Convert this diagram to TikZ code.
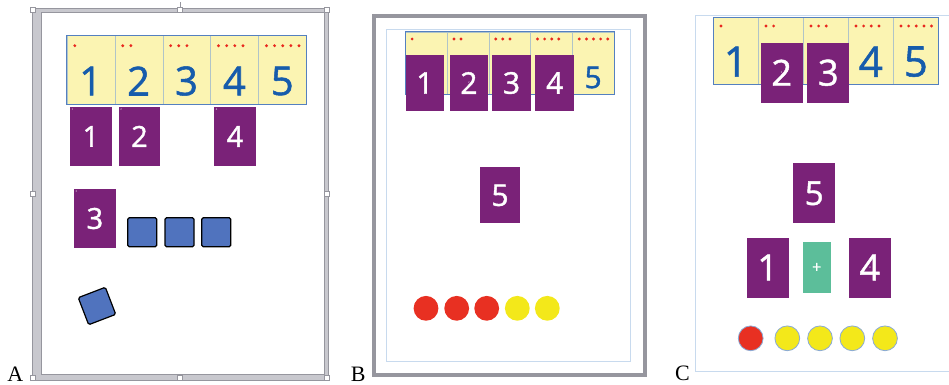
\documentclass[tikz,border=0pt]{standalone}
\usepackage{fontspec}
\setmainfont{Liberation Serif}
\newfontfamily\digitfont[FakeBold=1.3]{Open Sans}
\definecolor{cellyellow}{RGB}{251,244,178}
\definecolor{cellline}{RGB}{176,196,200}
\definecolor{stripblue}{RGB}{84,128,192}
\definecolor{digitblue}{RGB}{22,92,172}
\definecolor{dotred}{RGB}{232,40,30}
\definecolor{cardpurple}{RGB}{122,34,120}
\definecolor{plusgreen}{RGB}{92,190,154}
\definecolor{squareblue}{RGB}{80,115,190}
\definecolor{counterred}{RGB}{232,48,34}
\definecolor{counteryellow}{RGB}{243,232,26}
\definecolor{counterline}{RGB}{138,170,214}
\definecolor{framegray}{RGB}{150,150,158}
\definecolor{framelight}{RGB}{200,200,206}
\definecolor{pageblue}{RGB}{200,218,238}

\tikzset{
  cellbox/.style={draw=cellline, fill=cellyellow, inner sep=0pt},
  digit/.style={text=digitblue, inner sep=0pt},
  cardmark/.style={anchor=north west, text=white, font=\fontsize{3}{3}\selectfont, inner sep=1.5pt},
  card/.style={fill=cardpurple, text=white, inner sep=0pt,
    minimum width=41.5pt, minimum height=59.3pt,
    font=\digitfont\fontsize{29}{29}\selectfont},
  bluesq/.style={draw=black, line width=1.2pt, fill=squareblue, rounded corners=1.5pt,
    minimum size=29pt, inner sep=0pt},
  counter/.style={circle, inner sep=0pt, minimum size=24.8pt},
  handle/.style={draw=framegray, fill=white, line width=0.5pt, inner sep=0pt, minimum size=5pt},
  panellabel/.style={font=\fontsize{22}{22}\selectfont, anchor=base, inner sep=0pt}
}

% #1 name, #2 x, #3 y, #4 cell width, #5 height, #6 dot offset, #7 digit offset,
% #8 digit size, #9 digits left uncovered
\newcommand{\digitstrip}[9]{%
  \foreach \i in {1,...,5}{
    \node[cellbox, minimum width=#4pt, minimum height=#5pt, anchor=north west]
      (#1c\i) at ({#2+(\i-1)*#4},#3) {};
    \foreach \j in {1,...,\i}
      \fill[dotred] ({#2+(\i-1)*#4+\j*0.17*#4},{#3+#6}) circle (1.6);
  }
  \foreach \i in {#9}
    \node[digit, font=\digitfont\fontsize{#8}{#8}\selectfont]
      (#1d\i) at ({#2+(\i-0.5)*#4},{#3+#7}) {\i};
  \draw[stripblue, line width=0.9pt] (#2,#3) rectangle ({#2+5*#4},{#3+#5});
}

\begin{document}
\begin{tikzpicture}[x=1pt,y=-1pt]
\useasboundingbox (0,0) rectangle (949,384);

% panel A
\fill[framelight, even odd rule] (32,8) rectangle (328,380) (41,12) rectangle (324,374);
\draw[framegray, line width=0.8pt] (32,8) rectangle (328,380);
\draw[framegray, line width=0.8pt] (41,12) rectangle (324,374);
\draw[framegray, line width=0.6pt] (180,2) -- (180,8);
\foreach \p [count=\k] in {(33,10),(180,10),(327,10),(33,194),(327,194),(33,378),(180,378),(327,378)}
  \node[handle] (h\k) at \p {};

\digitstrip{a}{66.7}{35}{47.9}{69}{10.7}{46}{40}{1,...,5}

\node[card, label={[cardmark]north west:1}] (a1) at (90.9,136.4) {1};
\node[card, label={[cardmark]north west:2}] (a2) at (139.5,136.4) {2};
\node[card, label={[cardmark]north west:4}] (a4) at (235,136.4) {4};
\node[card, label={[cardmark]north west:3}] (a3) at (94.9,218.5) {3};

\node[bluesq] (sq1) at (142.3,232.2) {};
\node[bluesq] (sq2) at (179.5,232.2) {};
\node[bluesq] (sq3) at (216.2,232.2) {};
\node[bluesq, rotate=21] (sq4) at (97,306) {};

\node[panellabel] (labA) at (15.3,381) {A};

% panel B
\draw[framegray, line width=3.5pt] (374,16) rectangle (645,375);
\draw[pageblue, line width=0.8pt] (386.7,29.3) rectangle (630,361);

\digitstrip{b}{405}{31.7}{41.8}{62.6}{7.3}{45.8}{30}{5}

\begin{scope}[every node/.style={card, minimum width=38.5pt, minimum height=56pt,
    font=\digitfont\fontsize{30}{30}\selectfont}]
\node[label={[cardmark]north west:1}] (b1) at (424.9,83) {1};
\node[label={[cardmark]north west:2}] (b2) at (468.9,83) {2};
\node[label={[cardmark]north west:3}] (b3) at (511.5,83) {3};
\node[label={[cardmark]north west:4}] (b4) at (554.7,83) {4};
\node[minimum width=40pt, label={[cardmark]north west:5}] (b5) at (500,195.3) {5};
\end{scope}

\foreach \x/\c [count=\k] in {426/counterred,456.7/counterred,486.7/counterred,517.3/counteryellow,547.3/counteryellow}
  \node[counter, fill=\c] (bc\k) at (\x,308.3) {};

\node[panellabel] (labB) at (358.3,381) {B};

% panel C
\draw[pageblue, line width=0.8pt] (949,15) -- (695,15) -- (695,371.7) -- (949,371.7);

\digitstrip{c}{713.3}{17.3}{45}{66.7}{8.7}{44.4}{42}{1,4,5}

\begin{scope}[every node/.style={card, minimum width=42pt, minimum height=60pt,
    font=\digitfont\fontsize{36}{36}\selectfont}]
\node[label={[cardmark]north west:2}] (c2) at (781.7,72.7) {2};
\node[label={[cardmark]north west:3}] (c3) at (828.3,72.7) {3};
\node[font=\digitfont\fontsize{33}{33}\selectfont, label={[cardmark]north west:5}] (c5) at (814.2,193.3) {5};
\node[label={[cardmark]north west:1}] (c1) at (767.7,267.5) {1};
\node[label={[cardmark]north west:4}] (c4) at (869.9,267.5) {4};
\end{scope}
\node[fill=plusgreen, text=white, inner sep=0pt, minimum width=28pt, minimum height=51pt,
  font=\digitfont\fontsize{16}{16}\selectfont] (plus) at (816.7,267.8) {+};

\foreach \x/\c [count=\k] in {750.7/counterred,787.3/counteryellow,820/counteryellow,852.3/counteryellow,885/counteryellow}
  \node[counter, fill=\c, draw=counterline, line width=0.8pt] (cc\k) at (\x,338.3) {};

\node[panellabel] (labC) at (682.5,380.5) {C};
\end{tikzpicture}
\end{document}
